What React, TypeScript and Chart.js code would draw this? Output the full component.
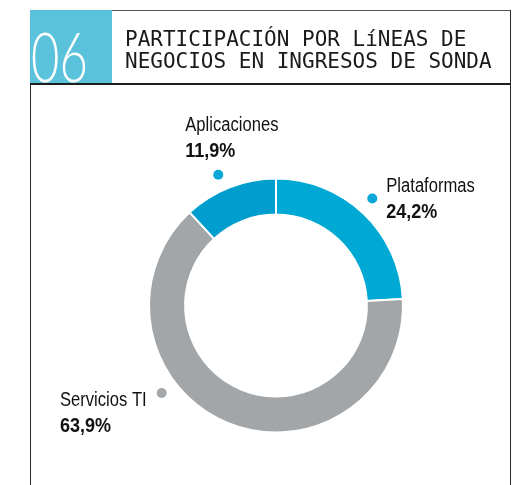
import React, { useEffect, useRef } from 'react';
import { Chart, registerables } from 'chart.js';

Chart.register(...registerables);

// ---- data ----
const categories = ['Plataformas', 'Servicios TI', 'Aplicaciones'];
const shares = [24.2, 63.9, 11.9];
const shareLabels = ['24,2%', '63,9%', '11,9%'];
const sliceColors = ['#00A9D4', '#A3A6A9', '#009ECE'];
const dotColors = ['#0AA7D7', '#A5A8AB', '#0AA7D7'];
const titleLines = ['PARTICIPACIÓN POR LíNEAS DE', 'NEGOCIOS EN INGRESOS DE SONDA'];
const chartNumber = '06';

// ---- label layout (positions / styles only) ----
const labelLayout = [
  { angleOffset: -1.6, gap: 17, anchor: 'left', dx: 14, dy: -6 },
  { angleOffset: 30.4, gap: 17, anchor: 'right', dx: -15, dy: 13 },
  { angleOffset: -2.4, gap: 16, anchor: 'left', dx: -33, dy: -44 },
];
const LINE_GAP = 26;
const NAME_FONT = '20px "Liberation Sans", Arial, sans-serif';
const PCT_FONT = 'bold 20px "Liberation Sans", Arial, sans-serif';
const NAME_SCALE = 0.83;
const PCT_SCALE = 0.9;

function drawNarrow(ctx: CanvasRenderingContext2D, text: string, x: number, y: number, sx: number) {
  ctx.save();
  ctx.translate(x, y);
  ctx.scale(sx, 1);
  ctx.fillText(text, 0, 0);
  ctx.restore();
}

const labelPlugin = {
  id: 'outerLabels',
  afterDraw(chart: any) {
    const ctx = chart.ctx as CanvasRenderingContext2D;
    const meta = chart.getDatasetMeta(0);
    meta.data.forEach((arc: any, i: number) => {
      const { x, y, startAngle, endAngle, outerRadius } = arc.getProps(
        ['x', 'y', 'startAngle', 'endAngle', 'outerRadius'],
        true
      );
      const lay = labelLayout[i];
      const a = (startAngle + endAngle) / 2 + (lay.angleOffset * Math.PI) / 180;
      const r = outerRadius + lay.gap;
      const dx = x + Math.cos(a) * r;
      const dy = y + Math.sin(a) * r;
      ctx.save();
      ctx.fillStyle = dotColors[i];
      ctx.beginPath();
      ctx.arc(dx, dy, 5, 0, Math.PI * 2);
      ctx.fill();

      ctx.fillStyle = '#111';
      ctx.textBaseline = 'alphabetic';
      ctx.textAlign = 'left';
      ctx.font = NAME_FONT;
      let tx = dx + lay.dx;
      if (lay.anchor === 'right') {
        tx = dx + lay.dx - ctx.measureText(categories[i]).width * NAME_SCALE;
      }
      const by = dy + lay.dy;
      drawNarrow(ctx, categories[i], tx, by, NAME_SCALE);
      ctx.font = PCT_FONT;
      drawNarrow(ctx, shareLabels[i], tx, by + LINE_GAP, PCT_SCALE);
      ctx.restore();
    });
  },
};

export default function App() {
  const canvasRef = useRef<HTMLCanvasElement | null>(null);

  useEffect(() => {
    if (!canvasRef.current) return;
    const chart = new Chart(canvasRef.current, {
      type: 'doughnut',
      data: {
        labels: categories,
        datasets: [
          {
            data: shares,
            backgroundColor: sliceColors,
            borderColor: '#ffffff',
            borderWidth: 2,
            hoverOffset: 0,
          },
        ],
      },
      options: {
        responsive: false,
        animation: false,
        radius: 127,
        cutout: 89.5,
        layout: { padding: { left: 150, right: 121, top: 179, bottom: 53 } },
        plugins: {
          legend: { display: false },
          tooltip: { enabled: false },
        },
        events: [],
      },
      plugins: [labelPlugin],
    } as any);
    return () => chart.destroy();
  }, []);

  const line = '#2a2a2a';
  return (
    <div
      style={{
        position: 'fixed',
        left: 0,
        top: 0,
        width: 523,
        height: 485,
        background: '#ffffff',
        overflow: 'hidden',
      }}
    >
      <canvas
        ref={canvasRef}
        width={523}
        height={485}
        style={{ position: 'absolute', left: 0, top: 0, width: 523, height: 485 }}
      />
      {/* frame */}
      <div style={{ position: 'absolute', left: 112, top: 10, width: 399, height: 1, background: '#555' }} />
      <div style={{ position: 'absolute', left: 510, top: 10, width: 1, height: 475, background: line }} />
      <div style={{ position: 'absolute', left: 30, top: 83, width: 1, height: 402, background: line }} />
      <div style={{ position: 'absolute', left: 30, top: 83, width: 481, height: 2, background: '#1e1e1e' }} />
      {/* number box */}
      <div
        style={{
          position: 'absolute',
          left: 30,
          top: 10,
          width: 82,
          height: 73,
          background: '#5BC2DB',
          overflow: 'hidden',
        }}
      >
        <div
          style={{
            position: 'absolute',
            left: 1,
            top: 12,
            fontFamily: 'Lato, "DejaVu Sans", sans-serif',
            fontWeight: 300,
            fontSize: 68,
            lineHeight: '68px',
            color: '#ffffff',
            transform: 'scaleX(0.72)',
            transformOrigin: 'left top',
            whiteSpace: 'nowrap',
          }}
        >
          {chartNumber}
        </div>
      </div>
      {/* title */}
      <div
        style={{
          position: 'absolute',
          left: 125,
          top: 28,
          fontFamily: '"DejaVu Sans Mono", "Liberation Mono", monospace',
          fontSize: 21,
          lineHeight: '22px',
          color: '#1a1a1a',
          whiteSpace: 'nowrap',
        }}
      >
        {titleLines.map((t, i) => (
          <div key={i}>{t}</div>
        ))}
      </div>
    </div>
  );
}
